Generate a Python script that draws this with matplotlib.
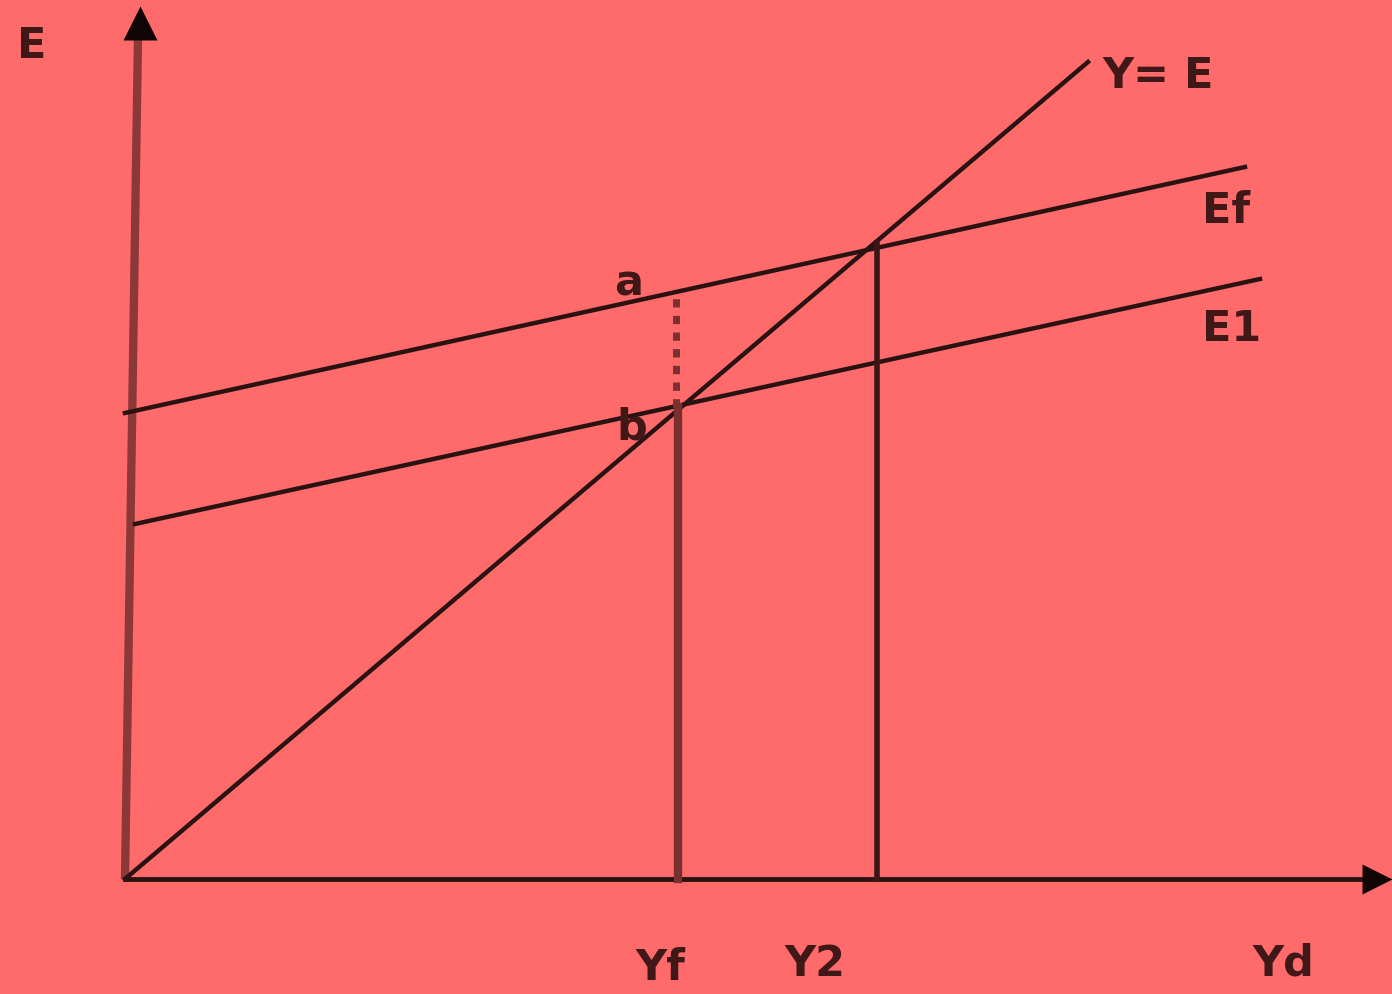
import matplotlib
matplotlib.use("Agg")
import matplotlib.pyplot as plt

# ---- diagram data (units: origin at the axes corner, y upward) ----
ye_x = [0, 963]            # Y = E (45-degree) line
ye_y = [0, 817]
ef_x = [0, 1120]           # Ef expenditure line
ef_y = [466, 712]
e1_x = [10, 1135]          # E1 expenditure line
e1_y = [355, 600]
yf = 553                   # full-employment income
yf_top = 472               # point b
a_level = 588              # point a (on Ef above Yf)
y2 = 752                   # equilibrium income on Ef
y2_top = 636
vaxis_x = [0, 13]
vaxis_y = [0, 842]
haxis_x = [0, 1250]
haxis_y = [0, 0]

labels = [
    ("E", -108, 822),
    ("Y= E", 977, 792),
    ("Ef", 1077, 657),
    ("E1", 1077, 539),
    ("a", 489, 584),
    ("b", 491, 440),
    ("Yf", 510, -100),
    ("Y2", 659, -96),
    ("Yd", 1127, -96),
]

BG = "#FF6B6B"
DARK = "#2b1212"
BROWN = "#7a2f2f"

fig = plt.figure(figsize=(13.92, 9.95), dpi=100, facecolor=BG)
ax = fig.add_axes([0, 0, 1, 1], facecolor=BG)
ax.set_xlim(-125, 1267)
ax.set_ylim(-115, 880)
ax.axis("off")

# axes
ax.plot(vaxis_x, vaxis_y, color="#8c3838", lw=6, solid_capstyle="butt", zorder=2)
ax.plot([vaxis_x[1] + 2], [vaxis_y[1] + 14], marker="^", ms=24, color="#120505",
        mec="none", zorder=3)
ax.plot(haxis_x, haxis_y, color=DARK, lw=3.5, zorder=2)
ax.plot([haxis_x[1] + 2], [0], marker=">", ms=22, color="#120505", mec="none", zorder=3)

# lines
ax.plot(ye_x, ye_y, color=DARK, lw=3.2, zorder=2)
ax.plot(ef_x, ef_y, color=DARK, lw=3.2, zorder=2)
ax.plot(e1_x, e1_y, color=DARK, lw=3.2, zorder=2)

# verticals
ax.plot([yf, yf], [0, yf_top], color=BROWN, lw=6, zorder=2)
ax.plot([y2, y2], [0, y2_top], color="#3a1616", lw=4, zorder=2)
ax.plot([yf - 2, yf - 2], [yf_top, a_level], color="#7a3030", lw=5,
        linestyle=(0, (1.2, 1.2)), zorder=2)

for txt, x, y in labels:
    ax.text(x, y, txt, fontsize=31, fontweight="bold", color="#401818",
            ha="left", va="baseline", family="DejaVu Sans")

fig.savefig("out.png", dpi=100, facecolor=BG)
